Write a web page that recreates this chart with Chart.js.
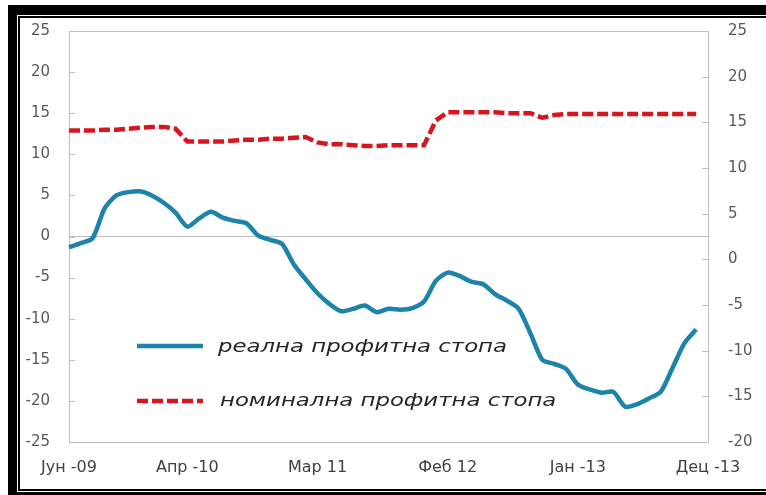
<!DOCTYPE html>
<html>
<head>
<meta charset="utf-8">
<script src="https://cdn.jsdelivr.net/npm/chart.js@4.4.1/dist/chart.umd.min.js"></script>
<style>
  html, body { margin: 0; padding: 0; background: #fff; overflow: hidden; }
  #wrap { position: relative; width: 766px; height: 495px; overflow: hidden; }
  canvas { position: absolute; left: 0; top: 0; }
  .frame { position: absolute; box-sizing: border-box; border-style: solid; border-color: #000; pointer-events: none; }
  #outer { left: 8px; top: 5px; width: 900px; height: 497px; border-width: 10px 0 10px 9px; }
  #inner { left: 18px; top: 16px; width: 900px; height: 475px; border-width: 2px 0 2px 2px; }
</style>
</head>
<body>
<div id="wrap">
  <canvas id="grafico" width="766" height="495"></canvas>
  <div class="frame" id="outer"></div>
  <div class="frame" id="inner"></div>
</div>
<script>
// Месеци (јун 2009 - дек 2013)
const meses = [
  "Јун -09", "Јул -09", "Авг -09", "Сеп -09", "Окт -09", "Ное -09", "Дец -09",
  "Јан -10", "Феб -10", "Мар -10", "Апр -10", "Мај -10", "Јун -10", "Јул -10", "Авг -10", "Сеп -10", "Окт -10", "Ное -10", "Дец -10",
  "Јан -11", "Феб -11", "Мар -11", "Апр -11", "Мај -11", "Јун -11", "Јул -11", "Авг -11", "Сеп -11", "Окт -11", "Ное -11", "Дец -11",
  "Јан -12", "Феб -12", "Мар -12", "Апр -12", "Мај -12", "Јун -12", "Јул -12", "Авг -12", "Сеп -12", "Окт -12", "Ное -12", "Дец -12",
  "Јан -13", "Феб -13", "Мар -13", "Апр -13", "Мај -13", "Јун -13", "Јул -13", "Авг -13", "Сеп -13", "Окт -13", "Ное -13", "Дец -13"
];

// Ознаки на x-оската
const tickIdx = [0, 10, 21, 32, 43, 54];
const tickTexts = ["Јун -09", "Апр -10", "Мар 11", "Феб 12", "Јан -13", "Дец -13"];

// Реална профитна стопа (лева оска)
const realna = [
  -1.3, -0.8, -0.2, 3.4, 5.0, 5.4, 5.5, 5.0, 4.1, 2.9,
  1.2, 2.2, 3.0, 2.3, 1.9, 1.6, 0.1, -0.4, -0.9, -3.4,
  -5.2, -6.9, -8.2, -9.1, -8.8, -8.4, -9.2, -8.8, -8.9, -8.7,
  -7.9, -5.4, -4.4, -4.8, -5.5, -5.8, -7.0, -7.8, -8.8, -11.8,
  -15.0, -15.5, -16.1, -18.0, -18.6, -19.0, -18.9, -20.7, -20.4, -19.7,
  -18.9, -16.0, -13.0, -11.3
];

// Номинална профитна стопа (десна оска)
const nominalna = [
  14.1, 14.1, 14.1, 14.2, 14.2, 14.3, 14.4, 14.5, 14.5, 14.3,
  12.9, 12.9, 12.9, 12.9, 13.0, 13.1, 13.1, 13.2, 13.2, 13.3,
  13.4, 12.8, 12.6, 12.6, 12.5, 12.4, 12.4, 12.5, 12.5, 12.5,
  12.5, 15.2, 16.1, 16.1, 16.1, 16.1, 16.1, 16.0, 16.0, 16.0,
  15.5, 15.8, 15.9, 15.9, 15.9, 15.9, 15.9, 15.9, 15.9, 15.9,
  15.9, 15.9, 15.9, 15.9
];

const seriesNames = ["реална профитна стопа", "номинална профитна стопа"];

const sivo = '#BFBFBF';
const tickFont = { family: '"DejaVu Sans", sans-serif', size: 15 };

// мали црти на y-оските, навнатре
const crtiPlugin = {
  id: 'crti',
  beforeDatasetsDraw(chart) {
    const { ctx, chartArea } = chart;
    ctx.save();
    ctx.strokeStyle = sivo;
    ctx.lineWidth = 1;
    ['y', 'y2'].forEach(id => {
      const sc = chart.scales[id];
      sc.ticks.forEach(t => {
        const py = Math.round(sc.getPixelForValue(t.value)) + 0.5;
        ctx.beginPath();
        if (id === 'y') {
          ctx.moveTo(chartArea.left, py); ctx.lineTo(chartArea.left + 6, py);
        } else {
          ctx.moveTo(chartArea.right - 6, py); ctx.lineTo(chartArea.right, py);
        }
        ctx.stroke();
      });
    });
    ctx.restore();
  }
};

// легенда во самиот график
const legendaPlugin = {
  id: 'legenda',
  afterDatasetsDraw(chart) {
    const ctx = chart.ctx;
    const rows = [{ y: 346, base: 352, x: 218 }, { y: 401, base: 406, x: 220 }];
    ctx.save();
    ctx.font = 'italic 18px "DejaVu Sans"';
    const sx = 289 / ctx.measureText(seriesNames[0]).width;
    chart.data.datasets.forEach((ds, i) => {
      const r = rows[i];
      ctx.strokeStyle = ds.borderColor;
      ctx.lineWidth = ds.borderWidth;
      ctx.lineCap = 'butt';
      ctx.setLineDash(ds.borderDash || []);
      ctx.beginPath();
      ctx.moveTo(137, r.y);
      ctx.lineTo(203, r.y);
      ctx.stroke();
      ctx.setLineDash([]);
      ctx.fillStyle = '#262626';
      ctx.save();
      ctx.translate(r.x, r.base);
      ctx.scale(sx, 1);
      ctx.fillText(ds.label, 0, 0);
      ctx.restore();
    });
    ctx.restore();
  }
};

new Chart(document.getElementById("grafico"), {
  type: "line",
  data: {
    labels: meses,
    datasets: [{
      label: seriesNames[0],
      data: realna,
      yAxisID: 'y',
      borderColor: '#1E83AA',
      borderWidth: 4.5,
      pointRadius: 0,
      tension: 0.25,
      fill: false
    }, {
      label: seriesNames[1],
      data: nominalna,
      yAxisID: 'y2',
      borderColor: '#D8141E',
      borderWidth: 4.5,
      borderDash: [11, 4],
      pointRadius: 0,
      tension: 0,
      fill: false
    }]
  },
  options: {
    responsive: false,
    animation: false,
    devicePixelRatio: 1,
    layout: { padding: { left: 20, right: 0, top: 31, bottom: 18 } },
    plugins: {
      legend: { display: false },
      tooltip: { enabled: false }
    },
    scales: {
      x: {
        offset: false,
        grid: { display: false },
        border: { display: true, color: sivo },
        afterFit(scale) { scale.height = 35; },
        ticks: {
          autoSkip: false,
          maxRotation: 0,
          padding: 8,
          color: '#404040',
          font: { ...tickFont, size: 16 },
          callback: function(value, index) {
            const k = tickIdx.indexOf(index);
            return k >= 0 ? tickTexts[k] : '';
          }
        }
      },
      y: {
        position: 'left',
        min: -25,
        max: 25,
        afterFit(scale) { scale.width = 49; },
        ticks: {
          stepSize: 5,
          padding: 19,
          color: '#595959',
          font: tickFont
        },
        grid: {
          drawTicks: false,
          color: ctx => (ctx.tick && (ctx.tick.value === 0 || ctx.tick.value === 25)) ? sivo : 'rgba(0,0,0,0)'
        },
        border: { display: true, color: sivo }
      },
      y2: {
        position: 'right',
        min: -20,
        max: 25,
        afterFit(scale) { scale.width = 58; },
        ticks: {
          stepSize: 5,
          padding: 20,
          color: '#595959',
          font: tickFont
        },
        grid: { display: false, drawTicks: false },
        border: { display: true, color: sivo }
      }
    }
  },
  plugins: [crtiPlugin, legendaPlugin]
});
</script>
</body>
</html>
